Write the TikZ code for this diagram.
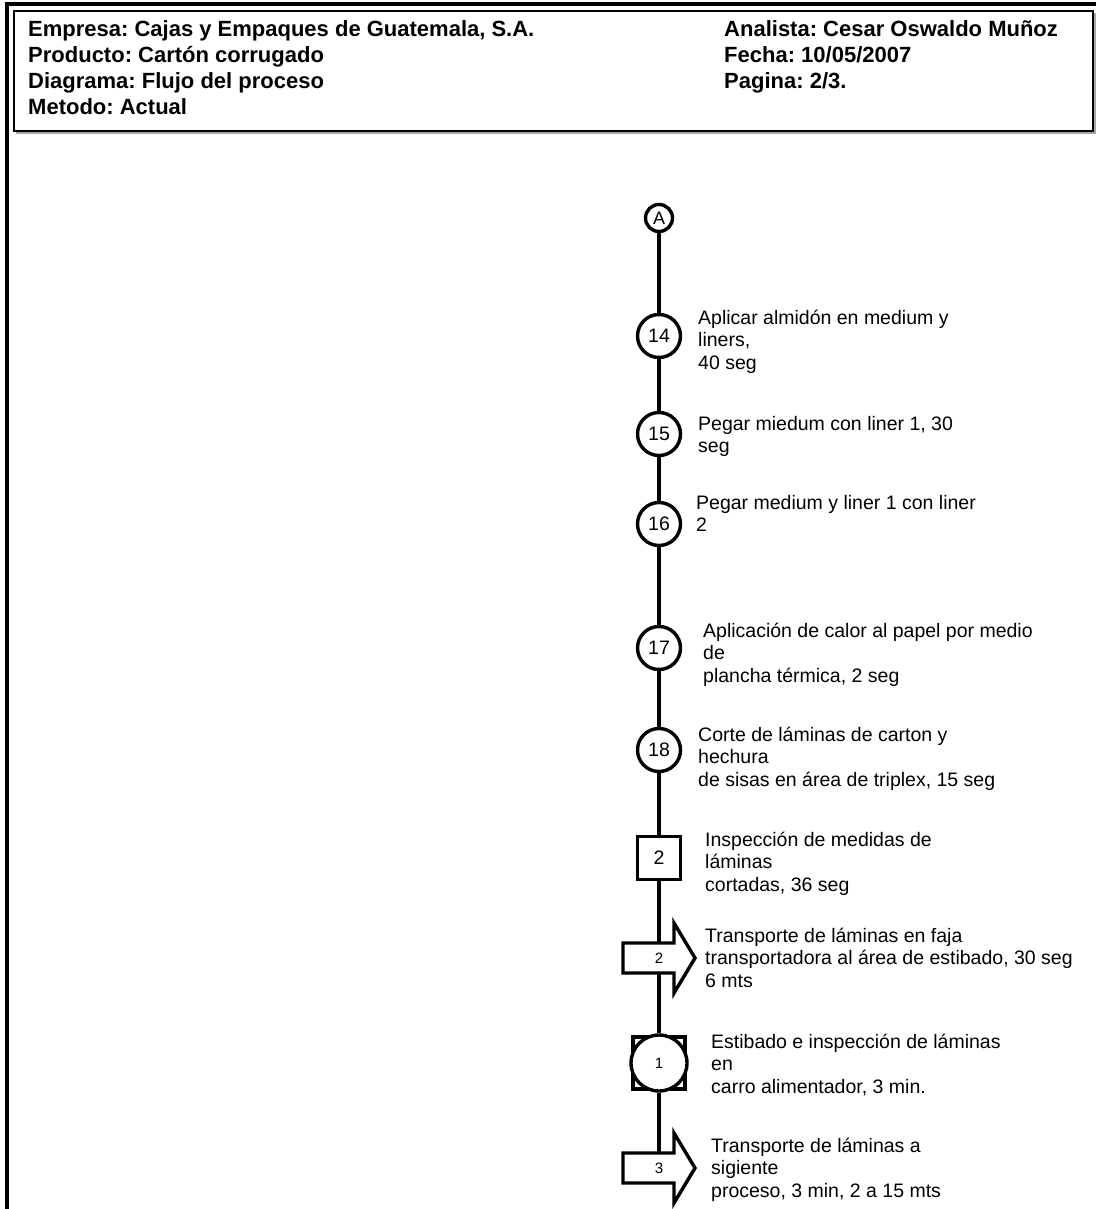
\documentclass[tikz,border=0pt]{standalone}
\usepackage{fontspec}
\setmainfont{Liberation Sans}
\frenchspacing
% one line of a description: fixed height and depth so lines sit on a 22.5pt grid
\newcommand\tl{\rule[-4.5pt]{0pt}{22.5pt}}
\begin{document}
\begin{tikzpicture}[x=1pt,y=-1pt,
  every node/.style={inner sep=0pt},
  hdr/.style={anchor=base west,font=\bfseries\fontsize{22}{26}\selectfont},
  desc/.style={anchor=north west,align=left,font=\fontsize{19.5}{22.5}\selectfont},
  opn/.style={circle,draw,line width=3.4pt,fill=white,minimum size=43pt,font=\fontsize{19.5}{22}\selectfont},
  conn/.style={circle,draw,line width=3.4pt,fill=white,minimum size=27pt,font=\fontsize{18}{20}\selectfont},
  insp/.style={rectangle,draw,line width=3.4pt,fill=white,minimum size=43pt,font=\fontsize{19.5}{22}\selectfont},
  flow/.style={line width=3.4pt},
  blockarrow/.style={draw,line width=3.4pt,fill=white,line join=miter},
  small/.style={font=\fontsize{15}{17}\selectfont}]
\useasboundingbox (0,0) rectangle (1096,1209);

% page frame
\draw[line width=3.6pt] (1096,4) -- (7,4) -- (7,1209);
% header box with shadow
\draw[line width=2pt,gray!70] (16,133) -- (1095,133) -- (1095,13);
\draw[line width=2.2pt] (14,11) rectangle (1093,131);

\node[hdr] (emp) at (28,37) {Empresa: Cajas y Empaques de Guatemala, S.A.};
\node[hdr] (prod) at (28,63) {Producto: Cartón corrugado};
\node[hdr] (diag) at (28,89) {Diagrama: Flujo del proceso};
\node[hdr] (met) at (28,115) {Metodo: Actual};
\node[hdr] (anal) at (724,37) {Analista: Cesar Oswaldo Muñoz};
\node[hdr] (fech) at (724,63) {Fecha: 10/05/2007};
\node[hdr] (pag) at (724,89) {Pagina: 2/3.};

% process symbols
\node[conn] (A) at (659,218) {A};
\node[opn] (c14) at (659,336) {14};
\node[opn] (c15) at (659,434) {15};
\node[opn] (c16) at (659,524) {16};
\node[opn] (c17) at (659,648) {17};
\node[opn] (c18) at (659,750) {18};
\node[insp] (s2) at (659,858) {2};
\node[rectangle,draw,line width=3.4pt,fill=white,minimum size=52pt] (op1sq) at (659,1063) {};
\node[circle,draw,line width=3.4pt,fill=white,minimum size=56pt,small] (op1) at (659,1063) {1};
\coordinate (t3) at (659,1168);

% flow line
\draw[flow] (A) -- (c14);
\draw[flow] (c14) -- (c15);
\draw[flow] (c15) -- (c16);
\draw[flow] (c16) -- (c17);
\draw[flow] (c17) -- (c18);
\draw[flow] (c18) -- (s2);
\draw[flow] (s2) -- (op1);
\draw[flow] (op1) -- (t3);

% transport arrows
\draw[blockarrow] (623,943) -- (674,943) -- (674,923) -- (695,958) -- (674,993) -- (674,973) -- (623,973) -- cycle;
\node[small] (n2) at (659,958) {2};
\draw[blockarrow] (623,1153) -- (674,1153) -- (674,1133) -- (695,1168) -- (674,1203) -- (674,1183) -- (623,1183) -- cycle;
\node[small] (n3) at (659,1168) {3};

% descriptions
\node[desc] (d14) at (698,306) {\tl Aplicar almidón en medium y\\\tl liners,\\\tl 40 seg};
\node[desc] (d15) at (698,412) {\tl Pegar miedum con liner 1, 30\\\tl seg};
\node[desc] (d16) at (696,491) {\tl Pegar medium y liner 1 con liner\\\tl 2};
\node[desc] (d17) at (703,619) {\tl Aplicación de calor al papel por medio\\\tl de\\\tl plancha térmica, 2 seg};
\node[desc] (d18) at (698,723) {\tl Corte de láminas de carton y\\\tl hechura\\\tl de sisas en área de triplex, 15 seg};
\node[desc] (dins) at (705,828) {\tl Inspección de medidas de\\\tl láminas\\\tl cortadas, 36 seg};
\node[desc] (dtr2) at (705,924) {\tl Transporte de láminas en faja\\\tl transportadora al área de estibado, 30 seg\\\tl 6 mts};
\node[desc] (dest) at (711,1030) {\tl Estibado e inspección de láminas\\\tl en\\\tl carro alimentador, 3 min.};
\node[desc] (dtr3) at (711,1134) {\tl Transporte de láminas a\\\tl sigiente\\\tl proceso, 3 min, 2 a 15 mts};
\end{tikzpicture}
\end{document}
